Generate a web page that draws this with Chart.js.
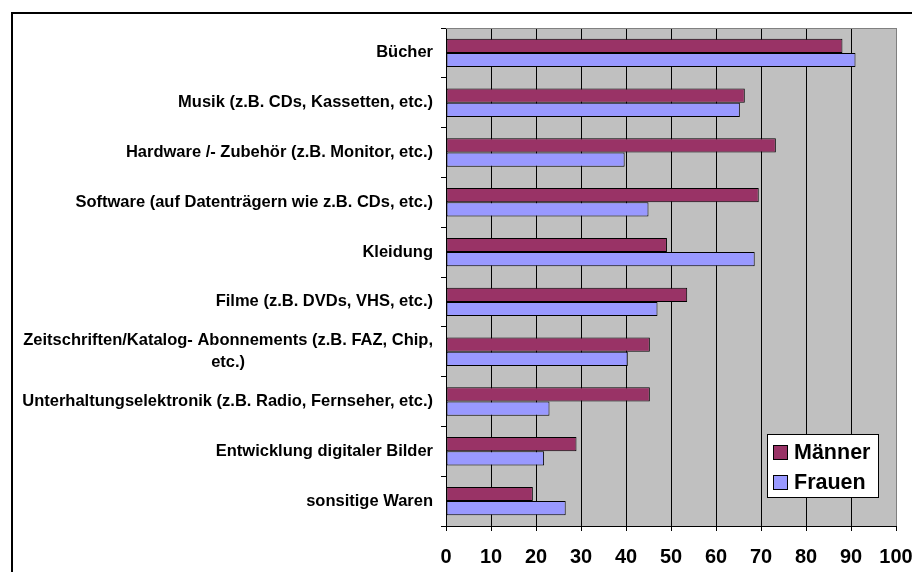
<!DOCTYPE html>
<html>
<head>
<meta charset="utf-8">
<script src="https://cdn.jsdelivr.net/npm/chart.js@4/dist/chart.umd.min.js"></script>
<style>
  html, body { margin: 0; padding: 0; background: #ffffff; }
  #wrap { width: 912px; height: 572px; }
</style>
</head>
<body>
<div id="wrap"><canvas id="c" width="912" height="572"></canvas></div>
<script>
const categories = [
  'Bücher',
  'Musik (z.B. CDs, Kassetten, etc.)',
  'Hardware /- Zubehör (z.B. Monitor, etc.)',
  'Software (auf Datenträgern wie z.B. CDs, etc.)',
  'Kleidung',
  'Filme (z.B. DVDs, VHS, etc.)',
  ['Zeitschriften/Katalog- Abonnements (z.B. FAZ, Chip,', 'etc.)'],
  'Unterhaltungselektronik (z.B. Radio, Fernseher, etc.)',
  'Entwicklung digitaler Bilder',
  'sonsitige Waren'
];
const seriesNames = ['Männer', 'Frauen'];
const maenner = [88.1, 66.4, 73.3, 69.5, 49.1, 53.6, 45.3, 45.3, 29.0, 19.3];
const frauen  = [91.0, 65.3, 39.7, 45.0, 68.6, 47.0, 40.4, 23.0, 21.8, 26.6];
const xTickValues = [0, 10, 20, 30, 40, 50, 60, 70, 80, 90, 100];

const FONT = '"Liberation Sans", Arial, sans-serif';

const framePlugin = {
  id: 'frame',
  beforeDraw(chart) {
    const ctx = chart.ctx;
    const a = chart.chartArea;
    ctx.save();
    ctx.fillStyle = '#ffffff';
    ctx.fillRect(0, 0, chart.width, chart.height);
    ctx.lineWidth = 2;
    ctx.strokeStyle = '#000000';
    ctx.strokeRect(12, 13, 1000, 1000);
    ctx.fillStyle = '#C0C0C0';
    ctx.fillRect(a.left, a.top, a.right - a.left, a.bottom - a.top);
    ctx.restore();
  },
  afterDraw(chart) {
    const ctx = chart.ctx;
    const a = chart.chartArea;
    const y = chart.scales.y;
    ctx.save();
    ctx.strokeStyle = '#808080';
    ctx.lineWidth = 1;
    ctx.beginPath();
    ctx.moveTo(a.left, Math.round(a.top) + 0.5);
    ctx.lineTo(a.right, Math.round(a.top) + 0.5);
    ctx.stroke();
    // category labels
    ctx.font = 'bold 16.5px ' + FONT;
    ctx.fillStyle = '#000000';
    ctx.textBaseline = 'middle';
    ctx.textAlign = 'center';
    const rightEdge = 433;
    const lh = 21.6;
    chart.data.labels.forEach((lab, i) => {
      const lines = Array.isArray(lab) ? lab : [lab];
      const w = Math.max(...lines.map(l => ctx.measureText(l).width));
      const cx = rightEdge - w / 2;
      const cy = y.getPixelForValue(i);
      const y0 = cy - (lines.length - 1) * lh / 2;
      lines.forEach((l, k) => ctx.fillText(l, cx, y0 + k * lh));
    });
    // legend
    const bx = 767.5, by = 434.5, bw = 111, bh = 63;
    ctx.fillStyle = '#ffffff';
    ctx.fillRect(bx, by, bw, bh);
    ctx.strokeStyle = '#000000';
    ctx.lineWidth = 1;
    ctx.strokeRect(bx, by, bw, bh);
    ctx.font = 'bold 21.5px ' + FONT;
    ctx.textAlign = 'left';
    chart.data.datasets.forEach((ds, k) => {
      const sy = 445.5 + k * 30;
      ctx.fillStyle = ds.backgroundColor;
      ctx.fillRect(773.5, sy, 14, 14);
      ctx.strokeRect(773.5, sy, 14, 14);
      ctx.fillStyle = '#000000';
      ctx.fillText(ds.label, 794, sy + 8);
    });
    ctx.restore();
  }
};

new Chart(document.getElementById('c'), {
  type: 'bar',
  data: {
    labels: categories,
    datasets: [
      { label: seriesNames[0], data: maenner, backgroundColor: '#993366', borderColor: '#000000', borderWidth: 1, borderSkipped: false },
      { label: seriesNames[1], data: frauen, backgroundColor: '#9999FF', borderColor: '#000000', borderWidth: 1, borderSkipped: false }
    ]
  },
  options: {
    indexAxis: 'y',
    responsive: false,
    animation: false,
    devicePixelRatio: 1,
    layout: { padding: { top: 28, right: 16, left: 0, bottom: 0 } },
    datasets: { bar: { categoryPercentage: 0.57, barPercentage: 1.0 } },
    plugins: { legend: { display: false }, tooltip: { enabled: false } },
    scales: {
      x: {
        min: 0, max: 100,
        afterBuildTicks: (s) => { s.ticks = xTickValues.map(v => ({ value: v })); },
        afterFit: (s) => { s.height = 46; s.paddingLeft = 0; s.paddingRight = 0; },
        ticks: { font: { family: FONT, size: 20, weight: 'bold' }, color: '#000000', padding: 14, maxRotation: 0 },
        grid: {
          color: (c) => (c.tick && c.tick.value === 100) ? '#808080' : '#000000',
          lineWidth: 1, drawTicks: true, tickLength: 5, tickColor: '#000000'
        },
        border: { display: true, color: '#000000', width: 1 }
      },
      y: {
        afterFit: (s) => { s.width = 446; },
        ticks: { display: false },
        grid: { drawOnChartArea: false, drawTicks: true, tickLength: 5, color: '#000000', offset: true },
        border: { display: true, color: '#000000', width: 1 }
      }
    }
  },
  plugins: [framePlugin]
});
</script>
</body>
</html>
